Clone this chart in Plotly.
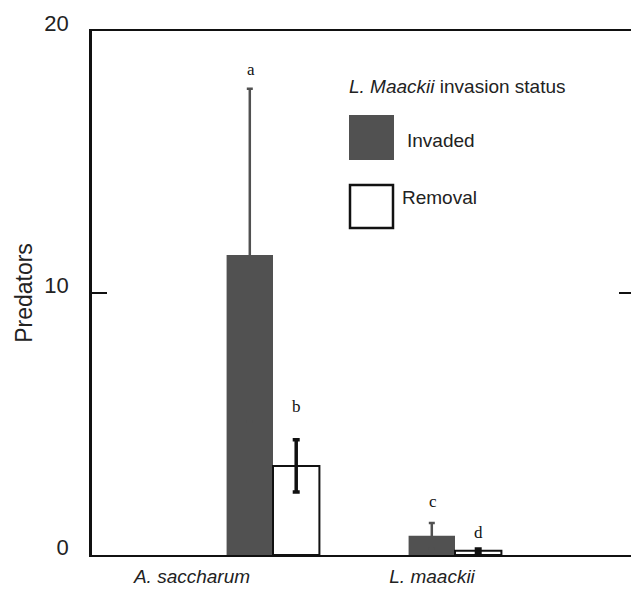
import plotly.graph_objects as go

# ---- data ----
species = ["A. saccharum", "L. maackii"]
invaded_mean = [11.45, 0.73]
invaded_se = [6.35, 0.49]
removal_mean = [3.4, 0.16]
removal_se = [1.0, 0.07]
invaded_letters = ["a", "c"]
removal_letters = ["b", "d"]
y_ticks = [0, 10, 20]

W, H = 631, 593
ML, MR, MT, MB = 92, 0, 31, 38
PW, PH = W - ML - MR, H - MT - MB

def px(x):
    return (x - ML) / PW

def py(y):
    return (H - MB - y) / PH

INV_COLOR = "#515151"
xpos = list(range(len(species)))

fig = go.Figure()
fig.add_trace(go.Bar(
    x=xpos, y=invaded_mean, name="Invaded",
    marker=dict(color=INV_COLOR, line=dict(width=0)),
    error_y=dict(type="data", array=invaded_se, visible=True,
                 color=INV_COLOR, thickness=2.5, width=3),
))
fig.add_trace(go.Bar(
    x=xpos, y=removal_mean, name="Removal",
    marker=dict(color="white", line=dict(color="#111111", width=2)),
    error_y=dict(type="data", array=removal_se, visible=True,
                 color="#111111", thickness=3.5, width=3.5),
))
# invisible trace so the right-hand axis (tick at 10) is drawn
fig.add_trace(go.Scatter(x=[xpos[0]], y=[y_ticks[0]], yaxis="y2", mode="markers",
                         marker=dict(opacity=0), hoverinfo="skip", showlegend=False))

annotations = []
inv_shift = [19, 22]
rem_shift = [33, 16]
for i in xpos:
    annotations.append(dict(x=i, y=invaded_mean[i] + invaded_se[i], xref="x", yref="y",
                            text=invaded_letters[i], showarrow=False, xshift=-22,
                            yshift=inv_shift[i], yanchor="middle",
                            font=dict(family="Liberation Serif", size=17, color="#111")))
    annotations.append(dict(x=i, y=removal_mean[i] + removal_se[i], xref="x", yref="y",
                            text=removal_letters[i], showarrow=False, xshift=23,
                            yshift=rem_shift[i], yanchor="middle",
                            font=dict(family="Liberation Serif", size=17, color="#111")))

# legend drawn manually
legend_font = dict(family="Liberation Sans", size=19, color="#222")
annotations.append(dict(x=px(347), y=py(86), xref="paper", yref="paper",
                        text="<i>L. Maackii</i> invasion status", showarrow=False,
                        xanchor="left", yanchor="middle", font=legend_font))
annotations.append(dict(x=px(405), y=py(140), xref="paper", yref="paper",
                        text="Invaded", showarrow=False,
                        xanchor="left", yanchor="middle", font=legend_font))
annotations.append(dict(x=px(400), y=py(197), xref="paper", yref="paper",
                        text="Removal", showarrow=False,
                        xanchor="left", yanchor="middle", font=legend_font))

shapes = [
    dict(type="rect", xref="paper", yref="paper", x0=px(349), x1=px(394),
         y0=py(160), y1=py(115), fillcolor=INV_COLOR, line=dict(width=0)),
    dict(type="rect", xref="paper", yref="paper", x0=px(350), x1=px(393),
         y0=py(228), y1=py(185), fillcolor="white", line=dict(color="#111", width=2.5)),
]

fig.update_layout(
    width=W, height=H,
    margin=dict(l=ML, r=MR, t=MT, b=MB, autoexpand=False),
    paper_bgcolor="white", plot_bgcolor="white",
    showlegend=False,
    barmode="group", bargap=0.49, bargroupgap=0,
    annotations=annotations, shapes=shapes,
    xaxis=dict(range=[-0.9945, 1.967], showgrid=False, zeroline=False,
               showline=True, linecolor="#111", linewidth=2, mirror=True,
               ticks="", tickmode="array", tickvals=[-0.445, 0.874],
               ticktext=[f"<i>{s}</i>" for s in species],
               tickfont=dict(family="Liberation Sans", size=19, color="#222"),
               ticklabelstandoff=3),
    yaxis=dict(range=[0, 20], showgrid=False, zeroline=False,
               showline=True, linecolor="#111", linewidth=2.5,
               ticks="inside", ticklen=15, tickwidth=2, tickcolor="#111",
               tickvals=y_ticks,
               tickfont=dict(family="Liberation Sans", size=22, color="#222"),
               ticklabelstandoff=16, ticklabelshift=-8,
               title=dict(text="Predators", standoff=6,
                          font=dict(family="Liberation Sans", size=23, color="#222"))),
    yaxis2=dict(range=[0, 20], overlaying="y", side="right", showgrid=False,
                zeroline=False, showline=False, ticks="inside", ticklen=12,
                tickwidth=2, tickcolor="#111", tickvals=[10], showticklabels=False),
)

fig.write_html("out.html")
